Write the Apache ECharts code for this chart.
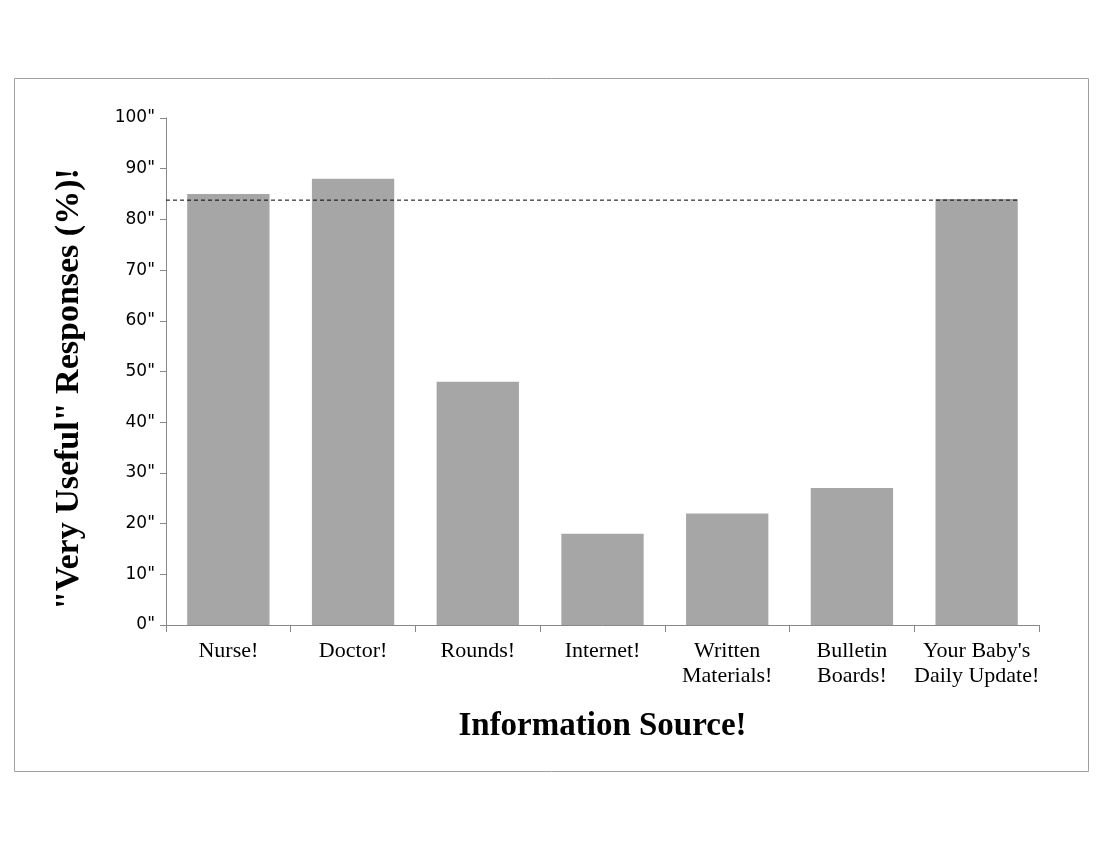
<!DOCTYPE html>
<html><head><meta charset="utf-8">
<script src="https://cdn.jsdelivr.net/npm/echarts@6/dist/echarts.min.js"></script>
<style>html,body{margin:0;padding:0;background:#fff}#c{width:1100px;height:850px}</style>
</head><body><div id="c"></div>
<script>
const categories = ["Nurse!", "Doctor!", "Rounds!", "Internet!", "Written\nMaterials!", "Bulletin\nBoards!", "Your Baby's\nDaily Update!"];
const values = [85, 88, 48, 18, 22, 27, 84];
const yTicks = [0, 10, 20, 30, 40, 50, 60, 70, 80, 90, 100];
const refLineValue = 83.8;
const refLineX = [0, 6.83];
const yTitle = '"Very Useful" Responses (%)!';
const xTitle = 'Information Source!';

const serif = '"Liberation Serif", "DejaVu Serif", serif';
const chart = echarts.init(document.getElementById('c'), null, {renderer: 'canvas'});
chart.setOption({
  animation: false,
  backgroundColor: '#fff',
  graphic: [
    {type: 'rect', shape: {x: 14.5, y: 78.5, width: 1074, height: 693}, style: {fill: 'none', stroke: '#a0a0a0', lineWidth: 1}, silent: true},
    {type: 'text', x: 69, y: 389, rotation: Math.PI / 2, silent: true,
     style: {text: yTitle, fontFamily: serif, fontSize: 34, fontWeight: 'bold', fill: '#000', align: 'center', verticalAlign: 'middle'}}
  ],
  grid: {left: 166, right: 61, top: 118, bottom: 225, containLabel: false},
  xAxis: [{
    type: 'category', data: categories,
    axisLine: {lineStyle: {color: '#888', width: 1}},
    axisTick: {show: true, length: 7, lineStyle: {color: '#888'}},
    axisLabel: {fontFamily: serif, fontSize: 22, color: '#000', margin: 14, lineHeight: 25, interval: 0},
    name: xTitle, nameLocation: 'middle', nameGap: 85,
    nameTextStyle: {fontFamily: serif, fontSize: 33, fontWeight: 'bold', color: '#000', verticalAlign: 'top'}
  }, {
    type: 'value', min: 0, max: 7, show: false
  }],
  yAxis: {
    type: 'value', min: 0, max: 100, interval: 10,
    axisLine: {show: true, lineStyle: {color: '#888', width: 1}},
    axisTick: {show: true, length: 6, lineStyle: {color: '#888'}},
    splitLine: {show: false},
    axisLabel: {formatter: v => yTicks.includes(v) ? v + '"' : '', fontFamily: '"DejaVu Sans", sans-serif', fontSize: 17, color: '#000', margin: 11}
  },
  series: [{
    type: 'bar', data: values, barWidth: '66%', xAxisIndex: 0,
    itemStyle: {color: '#a6a6a6'}
  }, {
    type: 'line', xAxisIndex: 1, data: refLineX.map(x => [x, refLineValue]),
    symbol: 'none', lineStyle: {color: '#000', width: 1, type: [4, 3]}, z: 5
  }]
});
</script></body></html>
